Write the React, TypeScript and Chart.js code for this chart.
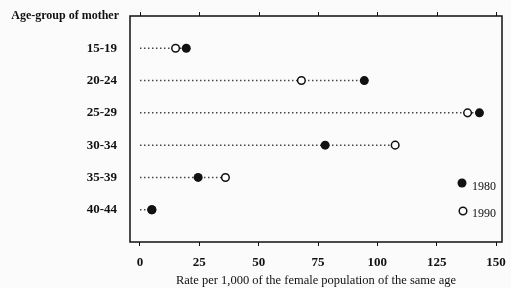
import React, { useEffect, useRef } from "react";
import { Chart, registerables } from "chart.js";

Chart.register(...registerables);

const categories = ["15-19", "20-24", "25-29", "30-34", "35-39", "40-44"];
const rate1980 = [19.5, 94.5, 143, 78, 24.5, 5];
const rate1990 = [15, 68, 138, 107.5, 36, 5];
const xTickValues = [0, 25, 50, 75, 100, 125, 150];
const seriesNames = ["1980", "1990"];
const yTitle = "Age-group of mother";
const xTitle = "Rate per 1,000 of the female population of the same age";

const SERIF = "'Liberation Serif', 'DejaVu Serif', serif";

export default function App() {
  const ref = useRef<HTMLCanvasElement | null>(null);

  useEffect(() => {
    document.body.style.margin = "0";
    const canvas = ref.current;
    if (!canvas) return;

    const lineSets = categories.map((c, i) => ({
      label: "line-" + c,
      data: [
        { x: 0, y: i + 1 },
        { x: Math.max(rate1980[i], rate1990[i]), y: i + 1 },
      ],
      showLine: true,
      borderColor: "#444",
      borderWidth: 1.5,
      borderDash: [1.5, 2.5],
      pointRadius: 0,
      order: 3,
    }));

    const framePlugin = {
      id: "frame",
      beforeDraw(chart: any) {
        const { ctx, width, height } = chart;
        ctx.save();
        ctx.fillStyle = "#fbfbfb";
        ctx.fillRect(0, 0, width, height);
        ctx.restore();
      },
      afterDraw(chart: any) {
        const { ctx, chartArea } = chart;
        const { left, right, top, bottom } = chartArea;
        const xs = chart.scales.x;
        ctx.save();
        ctx.strokeStyle = "#111";
        ctx.lineWidth = 1.5;
        ctx.strokeRect(left, top, right - left, bottom - top);
        ctx.lineWidth = 1;
        xTickValues.forEach((v) => {
          const px = Math.round(xs.getPixelForValue(v)) + 0.5;
          ctx.beginPath();
          ctx.moveTo(px, top);
          ctx.lineTo(px, top - 4);
          ctx.stroke();
        });
        // y title
        ctx.fillStyle = "#111";
        ctx.font = "bold 12px " + SERIF;
        ctx.textAlign = "right";
        ctx.textBaseline = "middle";
        ctx.fillText(yTitle, left - 11, 16);
        // x title
        ctx.font = "12.5px " + SERIF;
        ctx.textAlign = "center";
        ctx.fillText(xTitle, (left + right) / 2, 281);
        // legend
        const lx = right - 40;
        ctx.beginPath();
        ctx.arc(lx, 183, 4.5, 0, Math.PI * 2);
        ctx.fill();
        ctx.beginPath();
        ctx.arc(lx + 1, 211, 3.8, 0, Math.PI * 2);
        ctx.fillStyle = "#fff";
        ctx.fill();
        ctx.lineWidth = 1.5;
        ctx.strokeStyle = "#111";
        ctx.stroke();
        ctx.fillStyle = "#111";
        ctx.font = "12px " + SERIF;
        ctx.textAlign = "left";
        ctx.fillText(seriesNames[0], lx + 10, 187);
        ctx.fillText(seriesNames[1], lx + 10, 214);
        ctx.restore();
      },
    };

    const chart = new Chart(canvas, {
      type: "scatter",
      data: {
        datasets: [
          {
            label: seriesNames[0],
            data: categories.map((c, i) => ({ x: rate1980[i], y: i + 1 })),
            pointRadius: 4.5,
            pointBackgroundColor: "#111",
            pointBorderColor: "#111",
            pointBorderWidth: 0,
            order: 1,
          },
          {
            label: seriesNames[1],
            data: categories.map((c, i) => ({ x: rate1990[i], y: i + 1 })),
            pointRadius: 3.8,
            pointBackgroundColor: "#fff",
            pointBorderColor: "#111",
            pointBorderWidth: 1.5,
            order: 2,
          },
          ...lineSets,
        ] as any,
      },
      options: {
        animation: false,
        responsive: false,
        layout: { padding: { top: 16, right: 9, left: 0, bottom: 0 } },
        plugins: {
          legend: { display: false },
          tooltip: { enabled: false },
        },
        scales: {
          x: {
            type: "linear",
            min: -4.2,
            max: 152.5,
            afterBuildTicks: (scale: any) => {
              scale.ticks = xTickValues.map((v) => ({ value: v }));
            },
            afterFit: (scale: any) => {
              scale.height = 46;
              scale.paddingLeft = 0;
              scale.paddingRight = 0;
            },
            grid: {
              drawOnChartArea: false,
              drawTicks: true,
              tickLength: 4,
              color: "#111",
            },
            border: { display: false },
            ticks: {
              color: "#111",
              padding: 9,
              maxRotation: 0,
              font: { family: SERIF, size: 13, weight: "bold" },
            },
          },
          y: {
            type: "linear",
            min: 0,
            max: 7,
            reverse: true,
            afterBuildTicks: (scale: any) => {
              scale.ticks = categories.map((c, i) => ({ value: i + 1 }));
            },
            afterFit: (scale: any) => {
              scale.width = 130;
              scale.paddingTop = 0;
              scale.paddingBottom = 0;
            },
            grid: { display: false, drawTicks: false },
            border: { display: false },
            ticks: {
              color: "#111",
              padding: 13,
              callback: (v: any) => categories[Number(v) - 1] ?? "",
              font: { family: SERIF, size: 13, weight: "bold" },
            },
          },
        },
      } as any,
      plugins: [framePlugin],
    });

    return () => chart.destroy();
  }, []);

  return <canvas ref={ref} width={511} height={288} style={{ display: "block" }} />;
}
